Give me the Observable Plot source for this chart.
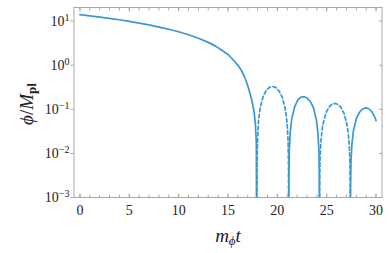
<!DOCTYPE html>
<html><head><meta charset="utf-8">
<script src="https://cdn.jsdelivr.net/npm/d3@7"></script>
<script src="https://cdn.jsdelivr.net/npm/@observablehq/plot@0.6"></script>
<style>body{margin:0;background:#fff} svg{display:block}
svg text, svg tspan, svg g{font-family:"Liberation Serif","DejaVu Serif",serif !important;}</style>
</head><body><div id="chart"></div>
<script>
// m_phi t
const time = [0,1,2,3,4,5,6,7,8,9,10,11,12,13,13.7,14.3,15,15.5,16,16.3,16.6,16.9,17.1,17.3,17.5,17.65,17.78,17.87,17.93,
  17.946,17.994,18.09,18.25,18.57,18.9,19.22,19.54,19.86,20.18,20.51,20.83,20.99,21.09,21.13,21.15,
  21.166,21.21,21.31,21.46,21.77,22.09,22.4,22.71,23.02,23.33,23.65,23.96,24.11,24.21,24.25,24.27,
  24.286,24.33,24.43,24.58,24.9,25.21,25.52,25.84,26.15,26.46,26.77,27.09,27.24,27.34,27.38,27.4,
  27.416,27.46,27.56,27.71,28.02,28.34,28.65,28.96,29.27,29.58,29.9,30.0];
// phi / M_pl (signed)
const phi = [14.0,13.2,12.4,11.6,10.75,9.9,9.05,8.2,7.35,6.55,5.75,4.9,4.1,3.3,2.75,2.25,1.75,1.35,1.0,0.8,0.6,0.4,0.29,0.2,0.13,0.085,0.045,0.017,0,
  -0.0054,-0.0215,-0.053,-0.105,-0.2,-0.273,-0.318,-0.33,-0.31,-0.26,-0.185,-0.096,-0.048,-0.019,-0.0047,0,
  0.0031,0.0125,0.031,0.062,0.117,0.165,0.19,0.193,0.18,0.152,0.11,0.057,0.029,0.0115,0.0029,0,
  -0.0021,-0.0085,-0.021,-0.042,-0.081,-0.111,-0.13,-0.136,-0.129,-0.109,-0.079,-0.041,-0.021,-0.0083,-0.0021,0,
  0.0017,0.0068,0.017,0.033,0.063,0.087,0.102,0.108,0.103,0.088,0.064,0.055];
const xMajorTicks = [0,5,10,15,20,25,30];
const xMinorTicks = [0,1,2,3,4,5,6,7,8,9,10,11,12,13,14,15,16,17,18,19,20,21,22,23,24,25,26,27,28,29,30];
const yTicks = [1e-3,1e-2,1e-1,1e0,1e1];

// split into sign-constant segments
const segs = []; let cur = [];
time.forEach((t, i) => {
  cur.push({t, v: phi[i]});
  if (phi[i] === 0 && cur.length > 1) { segs.push(cur); cur = [{t, v: 0}]; }
});
if (cur.length > 1) segs.push(cur);
const rows = segs.flatMap((s, k) => {
  const neg = s.some(d => d.v < 0);
  return s.map(d => ({t: d.t, y: Math.max(Math.abs(d.v), 1e-7), seg: k, neg}));
});

const color = "#3a97d4";
const grey = "#a8a8a8";
const serif = "'Liberation Serif', 'DejaVu Serif', serif";
const plot = Plot.plot({
  width: 389, height: 253,
  marginLeft: 73.5, marginRight: 7.5, marginTop: 7, marginBottom: 56,
  style: {fontFamily: serif, fontSize: "14px", background: "#fff", color: "#222"},
  x: {domain: [-0.6, 30.6]},
  y: {type: "log", domain: [1e-3, 20.4]},
  marks: [
    Plot.line(rows.filter(d => !d.neg), {x: "t", y: "y", z: "seg", stroke: color, strokeWidth: 1.7, clip: true}),
    Plot.line(rows.filter(d => d.neg), {x: "t", y: "y", z: "seg", stroke: color, strokeWidth: 1.7, strokeDasharray: "3.5,2.6", clip: true}),
    Plot.frame({stroke: grey, strokeWidth: 1}),
    Plot.axisX(xMinorTicks, {anchor: "bottom", tickSize: 2.5, dy: -2.5, fill: "none", stroke: grey, label: null}),
    Plot.axisX(xMajorTicks, {anchor: "bottom", tickSize: 3.5, dy: -3.5, fill: "none", stroke: grey, label: null}),
    Plot.axisX(xMajorTicks, {anchor: "bottom", tickSize: 0, tickPadding: 8, label: null, fontSize: 14}),
    Plot.axisX(xMinorTicks, {anchor: "top", tickSize: 2.5, dy: 2.5, fill: "none", stroke: grey, label: null}),
    Plot.axisX(xMajorTicks, {anchor: "top", tickSize: 3.5, dy: 3.5, fill: "none", stroke: grey, label: null}),
    Plot.axisY(yTicks, {anchor: "left", tickSize: 3, stroke: grey, tickPadding: 1.5, label: null, fontSize: 14,
      tickFormat: d => "10|" + Math.round(Math.log10(d))}),
    Plot.axisY(yTicks, {anchor: "right", tickSize: 3.5, dx: -3.5, fill: "none", stroke: grey, label: null})
  ]
});

const svg = d3.select(plot);
svg.selectAll('g[aria-label="y-axis tick label"] text').each(function () {
  const s = this.textContent.split("|");
  const el = d3.select(this).text(null);
  el.append("tspan").text(s[0]);
  el.append("tspan").attr("font-size", 10).attr("dy", "-0.45em").text(s[1].replace("-", "\u2212"));
});
svg.selectAll("text").attr("font-family", serif);
// axis labels
const xl = svg.append("text").attr("x", 228).attr("y", 242).attr("text-anchor", "middle")
  .attr("font-size", 19).attr("fill", "#222").attr("font-family", serif);
xl.append("tspan").attr("font-style", "italic").text("m");
xl.append("tspan").attr("font-style", "italic").attr("font-size", 13).attr("dy", 3).text("\u03d5");
xl.append("tspan").attr("font-style", "italic").attr("dy", -3).text("t");

const yl = svg.append("text").attr("transform", "translate(33,104) rotate(-90)").attr("text-anchor", "middle")
  .attr("font-size", 19).attr("fill", "#222").attr("font-family", serif);
yl.append("tspan").attr("font-style", "italic").text("\u03d5");
yl.append("tspan").text("/");
yl.append("tspan").attr("font-style", "italic").text("M");
yl.append("tspan").attr("font-size", 13).attr("font-weight", "bold").attr("dy", 3).text("pl");

document.getElementById("chart").append(plot);
</script>
</body></html>
